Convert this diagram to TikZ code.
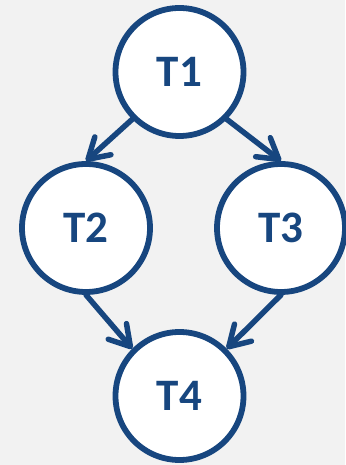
\documentclass[tikz,border=0pt]{standalone}
\usepackage{fontspec}
\setmainfont{Carlito}
\usetikzlibrary{arrows.meta}
\definecolor{taskblue}{HTML}{17467F}
\definecolor{paper}{HTML}{F2F2F2}
\begin{document}
\begin{tikzpicture}[x=1pt,y=1pt,
  task/.style={circle, draw=taskblue, fill=white, line width=5.8pt,
    minimum size=128pt, inner sep=0pt, text=taskblue,
    font=\fontsize{45}{45}\selectfont\bfseries},
  dep/.style={draw=taskblue, line width=5.5pt, line cap=round,
    -{Straight Barb[length=20pt, width=24pt, line cap=round, line join=round]}}]
  % page background
  \fill[paper] (0,0) rectangle (345,465);
  \useasboundingbox (0,0) rectangle (345,465);
  % tasks
  \node[task] (t1) at (179.5,393) {T1};
  \node[task] (t2) at (86,237) {T2};
  \node[task] (t3) at (281,237) {T3};
  \node[task] (t4) at (179.5,69) {T4};
  % dependencies
  \draw[dep] (t1.225) -- (t2.north);
  \draw[dep] (t1.315) -- (t3.north);
  \draw[dep] (t2.south) -- (t4.135);
  \draw[dep] (t3.south) -- (t4.45);
\end{tikzpicture}
\end{document}
